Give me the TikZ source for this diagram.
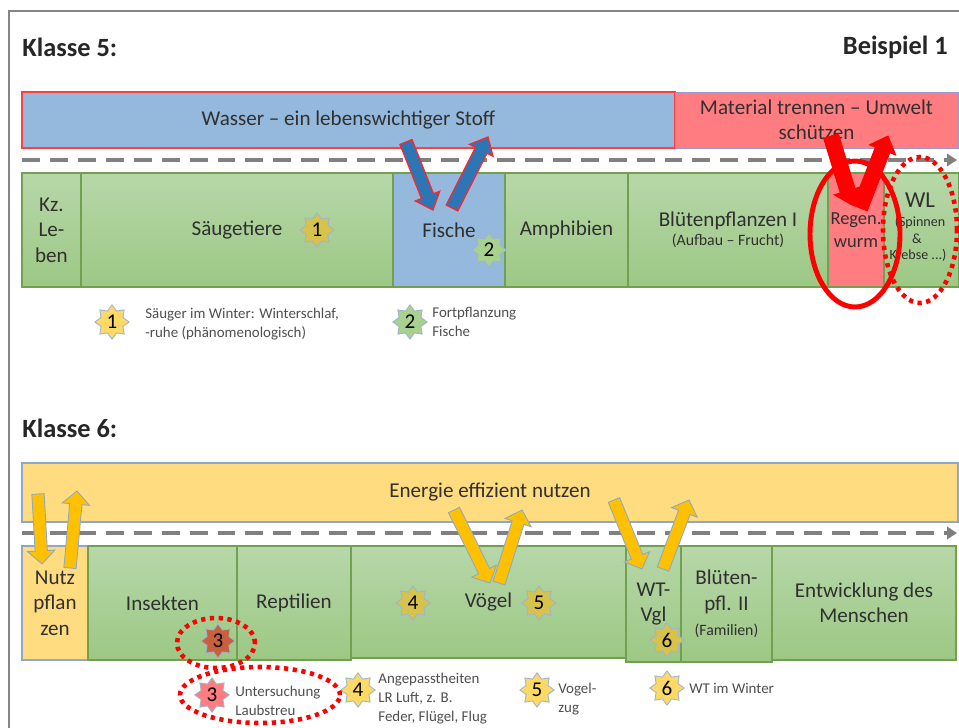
\documentclass[tikz,border=0pt]{standalone}
\usepackage{fontspec}
\setmainfont{Carlito}
\usetikzlibrary{calc,shapes.geometric,arrows.meta}
\definecolor{barblue}{HTML}{95B9DC}
\definecolor{barred}{HTML}{FF7C80}
\definecolor{gtop}{HTML}{B7D7A9}
\definecolor{gbot}{HTML}{9CC884}
\definecolor{gborder}{HTML}{72A052}
\definecolor{ybar}{HTML}{FFDC80}
\definecolor{arrowblue}{HTML}{2E75B6}
\definecolor{arrowyellow}{HTML}{FFC000}
\definecolor{stargold}{HTML}{D7C34B}
\definecolor{staryellow}{HTML}{FFD966}
\definecolor{stargreen}{HTML}{A9D18E}
\definecolor{starbrown}{HTML}{C8603E}
\definecolor{txt}{HTML}{303030}
\definecolor{dashgray}{HTML}{808080}
\definecolor{framegray}{HTML}{858585}
\definecolor{starline}{HTML}{9DB5CF}
\definecolor{ylineblue}{HTML}{8FA8C8}
\newcommand\cell[7]{\node[#1, anchor=north west, minimum width={(#4-#3)*0.02cm}, minimum height={(#6-#5)*0.02cm}] (#2) at (#3,#5) {#7};}
\newcommand\blkarrow[6]{%
  \coordinate (ba-n) at ($(#3)!#6!(#2)$);
  \draw[#1] ($(#2)!#4!90:(#3)$) -- ($(ba-n)!#4!90:(#3)$) -- ($(ba-n)!#5!90:(#3)$) -- (#3) -- ($(ba-n)!#5!-90:(#3)$) -- ($(ba-n)!#4!-90:(#3)$) -- ($(#2)!#4!-90:(#3)$) -- cycle;
}
\begin{document}
\begin{tikzpicture}[x=0.02cm, y=-0.02cm,
  title/.style={font=\bfseries\fontsize{15}{18}\selectfont, text=black!85, inner sep=0},
  base/.style={inner sep=0, outer sep=0, align=center, text=txt, font=\fontsize{12}{14.5}\selectfont},
  gbox/.style={base, draw=gborder, line width=0.6pt, top color=gtop, bottom color=gbot},
  bbox/.style={base, draw=gborder, line width=0.6pt, fill=barblue},
  rbox/.style={base, draw=gborder, line width=0.6pt, fill=barred, font=\fontsize{10.5}{13}\selectfont},
  ybox/.style={base, draw=ylineblue, line width=0.6pt, fill=ybar},
  bluebar/.style={base, draw=red!75, line width=0.7pt, fill=barblue},
  redbar/.style={base, draw=black!45!blue!40, line width=0.5pt, fill=barred},
  ybarst/.style={base, draw=ylineblue, line width=0.6pt, fill=ybar},
  dashline/.style={dashgray, line width=2.3pt, dash pattern=on 10.2pt off 5.7pt, -{Triangle[length=5.7pt,width=7pt]}},
  starn/.style={star, star points=8, star point ratio=1.45, minimum size=19.5pt, inner sep=0, draw=starline, line width=0.5pt, text=black, font=\fontsize{12}{12}\selectfont},
  legend/.style={anchor=west, align=left, inner sep=0, text=txt!85, font=\fontsize{8.5}{10.8}\selectfont},
  blueA/.style={fill=arrowblue, draw=red!85, line width=0.7pt},
  redA/.style={fill=red, draw=red, line width=0.5pt},
  yelA/.style={fill=arrowyellow, draw=ylineblue, line width=0.5pt},
  solidring/.style={draw=red, line width=2.8pt},
  dotring/.style={draw=red, line width=2.6pt, dash pattern=on 2.4pt off 2.6pt}
]
\useasboundingbox (0,0) rectangle (959,727);
\fill[white] (0,0) rectangle (959,727);
% frame
\draw[framegray, line width=1.7pt] (9,760) -- (9,11) -- (990,11);

% ---------- Klasse 5 ----------
\node[title, anchor=west] (k5) at (22,47) {Klasse 5:};
\node[title, anchor=east] (bsp) at (948,47) {Beispiel 1};

\cell{bluebar}{wasser}{22}{675}{92}{148}{\raisebox{-2pt}{Wasser – ein lebenswichtiger Stoff}}
\cell{redbar}{material}{675}{958}{92}{148}{Material trennen – Umwelt\\schützen}

\coordinate (d5a) at (22,160); \coordinate (d5b) at (957,160);
\draw[dashline] (d5a) -- (d5b);

\cell{gbox}{kz}{22}{81}{173}{287}{Kz.\\Le-\\ben}
\cell{gbox}{saeug}{81}{393}{173}{287}{Säugetiere}
\cell{bbox}{fische}{393}{505}{173}{287}{Fische}
\cell{gbox}{amph}{505}{628}{173}{287}{Amphibien}
\cell{gbox}{bluete}{628}{828}{173}{287}{Blütenpflanzen I\\[-3.4pt]{\fontsize{9}{11}\selectfont (Aufbau – Frucht)}}
\cell{rbox}{regen}{828}{884}{173}{287}{Regen.\\wurm}
\cell{gbox}{wl}{884}{959}{173}{287}{}
\node[base, font=\fontsize{13}{13}\selectfont] (wlt) at (920,200) {WL};
\node[base, font=\fontsize{8}{9}\selectfont] (wl1) at (920,222) {(Spinnen};
\node[base, font=\fontsize{8}{9}\selectfont] (wl2) at (917,239) {\&};
\node[base, font=\fontsize{8}{9}\selectfont] (wl3) at (918,255) {Krebse ...)};

\node[starn, fill=stargold] (s1) at (317,230) {1};
\node[starn, fill=stargreen] (s2) at (489,250) {2};

\node[starn, fill=staryellow] (s1l) at (112,322) {1};
\node[legend] (t1l) at (145,324) {Säuger im Winter: Winterschlaf,\\-ruhe (phänomenologisch)};
\node[starn, fill=stargreen] (s2l) at (410,322) {2};
\node[legend] (t2l) at (432,322) {Fortpflanzung\\Fische};

% arrows Klasse 5
\coordinate (a1s) at (406,142); \coordinate (a1e) at (433,210);
\coordinate (a2s) at (452,208); \coordinate (a2e) at (488,137);
\blkarrow{blueA}{a1s}{a1e}{3.7pt}{7.5pt}{8.5pt}
\blkarrow{blueA}{a2s}{a2e}{3.7pt}{7.5pt}{8.5pt}
\coordinate (b1s) at (831,136); \coordinate (b1e) at (852,205);
\coordinate (b2s) at (860,208); \coordinate (b2e) at (888,136);
\blkarrow{redA}{b1s}{b1e}{4.4pt}{8pt}{8.5pt}
\blkarrow{redA}{b2s}{b2e}{4.4pt}{8pt}{8.5pt}

\draw[solidring] (855,234) ellipse [x radius=0.9cm, y radius=1.46cm];
\draw[dotring] (920,230) ellipse [x radius=0.74cm, y radius=1.46cm];

% ---------- Klasse 6 ----------
\node[title, anchor=west] (k6) at (22,428) {Klasse 6:};
\cell{ybarst}{energie}{22}{958}{463}{522}{Energie effizient nutzen}

\coordinate (d6a) at (22,533); \coordinate (d6b) at (957,533);
\draw[dashline] (d6a) -- (d6b);

\cell{ybox}{nutz}{22}{88}{546}{660}{Nutz\\pflan\\zen}
\cell{gbox}{insekt}{88}{237}{546}{660}{Insekten}
\cell{gbox}{rept}{237}{351}{546}{660}{Reptilien}
\cell{gbox}{voegel}{351}{626}{546}{658}{Vögel}
\cell{gbox}{wtvgl}{626}{681}{546}{662}{WT-\\Vgl}
\cell{gbox}{bluete2}{681}{772}{546}{662}{Blüten-\\pfl. II\\{\fontsize{9}{11}\selectfont (Familien)}}
\cell{gbox}{mensch}{772}{956}{546}{660}{Entwicklung des\\Menschen}

\node[starn, fill=starbrown] (s3) at (218,641) {3};
\node[starn, fill=stargold] (s4) at (413,603) {4};
\node[starn, fill=stargold] (s5) at (539,603) {5};
\node[starn, fill=stargold] (s6) at (667,640) {6};

\node[starn, fill=barred] (s3l) at (212,695) {3};
\node[legend] (t3l) at (235,701) {Untersuchung\\Laubstreu};
\node[starn, fill=staryellow] (s4l) at (358,690) {4};
\node[legend] (t4l) at (378,699) {Angepasstheiten\\LR Luft, z. B.\\Feder, Flügel, Flug};
\node[starn, fill=staryellow] (s5l) at (537,690) {5};
\node[legend] (t5l) at (558,699) {Vogel-\\zug};
\node[starn, fill=staryellow] (s6l) at (667,688) {6};
\node[legend] (t6l) at (689,688) {WT im Winter};

% arrows Klasse 6
\coordinate (c1s) at (38,494); \coordinate (c1e) at (42,564);
\coordinate (c2s) at (70,568); \coordinate (c2e) at (77,491);
\blkarrow{yelA}{c1s}{c1e}{3.5pt}{7.8pt}{7.5pt}
\blkarrow{yelA}{c2s}{c2e}{3.5pt}{7.8pt}{7.5pt}
\coordinate (d1s) at (454,510); \coordinate (d1e) at (490,583);
\coordinate (d2s) at (499,583); \coordinate (d2e) at (522,510);
\blkarrow{yelA}{d1s}{d1e}{3.5pt}{7.8pt}{7.5pt}
\blkarrow{yelA}{d2s}{d2e}{3.5pt}{7.8pt}{7.5pt}
\coordinate (e1s) at (614,500); \coordinate (e1e) at (642,569);
\coordinate (e2s) at (663,569); \coordinate (e2e) at (689,500);
\blkarrow{yelA}{e1s}{e1e}{3.5pt}{7.8pt}{7.5pt}
\blkarrow{yelA}{e2s}{e2e}{3.5pt}{7.8pt}{7.5pt}

\draw[dotring] (216,643) ellipse [x radius=0.78cm, y radius=0.5cm];
\draw[dotring] (260,695) ellipse [x radius=1.6cm, y radius=0.56cm];
\end{tikzpicture}
\end{document}
